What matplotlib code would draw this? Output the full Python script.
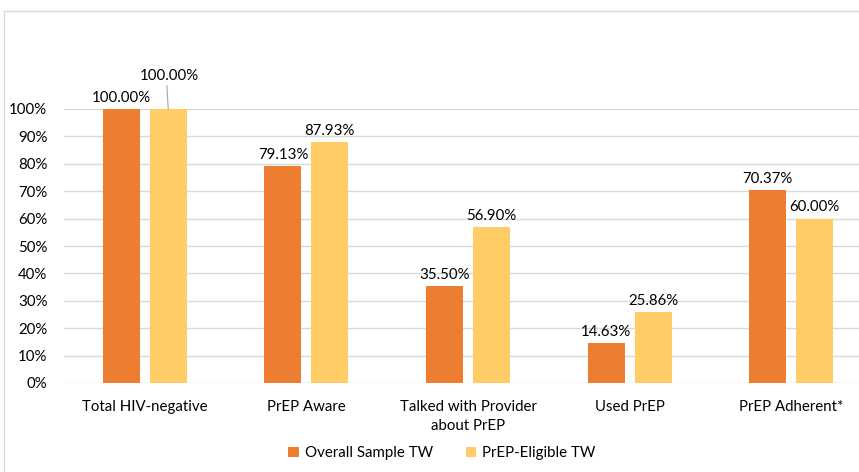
import matplotlib
matplotlib.use("Agg")
import matplotlib.pyplot as plt
import numpy as np

categories = ["Total HIV-negative", "PrEP Aware", "Talked with Provider\nabout PrEP",
              "Used PrEP", "PrEP Adherent*"]
overall = [100.00, 79.13, 35.50, 14.63, 70.37]
eligible = [100.00, 87.93, 56.90, 25.86, 60.00]
series_names = ["Overall Sample TW", "PrEP-Eligible TW"]
yticks = [0, 10, 20, 30, 40, 50, 60, 70, 80, 90, 100]

plt.rcParams['font.family'] = ['Lato', 'DejaVu Sans']

W, H = 859, 472
fig = plt.figure(figsize=(W / 100, H / 100), dpi=100)

# chart border (Excel chart area)
fig.patches.append(plt.Rectangle((4 / W, -0.1), 1.2, (H - 11) / H + 0.1, transform=fig.transFigure,
                                 fill=False, edgecolor='#D9D9D9', linewidth=1))

ax = fig.add_axes([64 / W, 89 / H, 808 / W, 274 / H])
x = np.arange(len(categories))
bw = 0.229
off = 0.145
c1, c2 = '#ED7D31', '#FFCC66'
fs = 10.8
b1 = ax.bar(x - off, overall, bw, color=c1, label=series_names[0], zorder=3)
b2 = ax.bar(x + off, eligible, bw, color=c2, label=series_names[1], zorder=3)

ax.set_xlim(-0.5, len(categories) - 0.5)
ax.set_ylim(0, 100)
ax.set_yticks(yticks)
ax.set_yticklabels([f"{t}%" for t in yticks], fontsize=fs, color='#000000')
ax.set_xticks(x)
ax.set_xticklabels(categories, fontsize=fs, color='#000000', linespacing=1.5)
ax.tick_params(axis='x', length=0, pad=12)
ax.tick_params(axis='y', length=0, pad=12)
ax.grid(axis='y', color='#D9D9D9', linewidth=1, zorder=0)
for s in ax.spines.values():
    s.set_visible(False)

for i, v in enumerate(overall):
    ax.annotate(f"{v:.2f}%", (x[i] - off, v), xytext=(0, 3), textcoords='offset points',
                ha='center', va='bottom', fontsize=fs, annotation_clip=False)
for i, v in enumerate(eligible):
    if i == 0:
        ax.annotate(f"{v:.2f}%", xy=(x[i] + off, v), xytext=(1, 19), textcoords='offset points',
                    ha='center', va='bottom', fontsize=fs, annotation_clip=False,
                    arrowprops=dict(arrowstyle='-', color='#A6A6A6', lw=0.8, shrinkA=0, shrinkB=0,
                                    relpos=(0.45, 0)))
    else:
        ax.annotate(f"{v:.2f}%", (x[i] + off, v), xytext=(0, 3), textcoords='offset points',
                    ha='center', va='bottom', fontsize=fs, annotation_clip=False)

fig.legend(handles=[b1, b2], loc='center', bbox_to_anchor=(442 / W, 1 - 453 / H), ncol=2,
           frameon=False, fontsize=fs, handlelength=0.7, handleheight=0.7,
           columnspacing=2.2, handletextpad=0.4)

fig.savefig("out.png", dpi=100)
